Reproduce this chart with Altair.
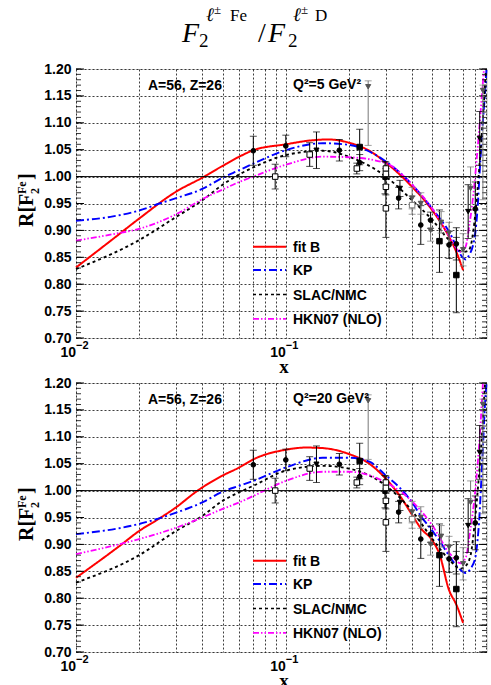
import altair as alt
import pandas as pd
import numpy as np

# ---------------- model curves ----------------
MODELS = ["fit B", "KP", "SLAC/NMC", "HKN07 (NLO)"]
COLORS = ["#ff0000", "#0000ff", "#000000", "#ff00ff"]
DASHES = [[1, 0], [8, 3, 2, 3], [3, 3], [6, 2, 1.5, 2, 1.5, 2]]
WIDTHS = [2.0, 1.8, 1.6, 1.8]

# Q^2 = 5 GeV^2
fitB5_x = [0.01, 0.015, 0.02, 0.03, 0.04, 0.05, 0.06, 0.07, 0.1, 0.13, 0.16, 0.2, 0.25, 0.3, 0.4, 0.5, 0.6, 0.65, 0.7]
fitB5_y = [0.831, 0.884, 0.922, 0.972, 0.998, 1.020, 1.037, 1.049, 1.060, 1.067, 1.069, 1.063, 1.048, 1.026, 0.981, 0.937, 0.888, 0.860, 0.826]
kp5_x = [0.01, 0.015, 0.02, 0.025, 0.03, 0.04, 0.05, 0.06, 0.07, 0.1, 0.15, 0.2, 0.3, 0.4, 0.5, 0.6, 0.7, 0.72, 0.75, 0.78, 0.8, 0.82, 0.84, 0.865, 0.89, 0.905]
kp5_y = [0.918, 0.926, 0.937, 0.950, 0.960, 0.977, 0.998, 1.012, 1.024, 1.049, 1.062, 1.059, 1.028, 0.985, 0.940, 0.898, 0.849, 0.846, 0.855, 0.872, 0.895, 0.940, 1.010, 1.090, 1.155, 1.200]
slac5_x = [0.01, 0.02, 0.03, 0.04, 0.05, 0.06, 0.07, 0.1, 0.15, 0.2, 0.3, 0.4, 0.5, 0.6, 0.7, 0.74, 0.77, 0.8, 0.83, 0.86, 0.88, 0.9]
slac5_y = [0.828, 0.882, 0.925, 0.956, 0.985, 1.004, 1.017, 1.040, 1.048, 1.037, 1.000, 0.956, 0.919, 0.882, 0.860, 0.862, 0.880, 0.930, 1.000, 1.080, 1.140, 1.200]
hkn5_x = [0.01, 0.015, 0.02, 0.03, 0.04, 0.05, 0.06, 0.07, 0.1, 0.15, 0.2, 0.3, 0.4, 0.5, 0.6, 0.68, 0.72, 0.75, 0.785, 0.82, 0.86, 0.88]
hkn5_y = [0.881, 0.893, 0.903, 0.930, 0.958, 0.976, 0.990, 1.000, 1.022, 1.037, 1.036, 1.025, 0.985, 0.940, 0.890, 0.860, 0.870, 0.910, 0.970, 1.050, 1.150, 1.200]

# Q^2 = 20 GeV^2
fitB20_x = [0.01, 0.0165, 0.02, 0.024, 0.03, 0.038, 0.05, 0.06, 0.07, 0.1, 0.125, 0.15, 0.2, 0.25, 0.3, 0.35, 0.4, 0.44, 0.5, 0.54, 0.6, 0.65, 0.7]
fitB20_y = [0.838, 0.900, 0.925, 0.944, 0.969, 1.000, 1.028, 1.043, 1.058, 1.076, 1.080, 1.079, 1.068, 1.050, 1.022, 0.990, 0.955, 0.930, 0.907, 0.882, 0.815, 0.788, 0.754]
kp20_x = [0.01, 0.02, 0.03, 0.04, 0.05, 0.06, 0.07, 0.1, 0.15, 0.2, 0.25, 0.3, 0.35, 0.4, 0.44, 0.5, 0.54, 0.61, 0.67, 0.72, 0.76, 0.8, 0.82, 0.835, 0.85, 0.87, 0.89, 0.905]
kp20_y = [0.919, 0.938, 0.959, 0.978, 0.998, 1.009, 1.018, 1.043, 1.061, 1.061, 1.054, 1.028, 1.005, 0.978, 0.953, 0.925, 0.907, 0.875, 0.855, 0.847, 0.855, 0.875, 0.907, 0.944, 1.000, 1.080, 1.160, 1.200]
slac20_x = [0.01, 0.02, 0.03, 0.04, 0.05, 0.06, 0.07, 0.1, 0.15, 0.2, 0.3, 0.4, 0.5, 0.6, 0.68, 0.72, 0.76, 0.8, 0.83, 0.86, 0.89]
slac20_y = [0.829, 0.880, 0.925, 0.953, 0.981, 0.997, 1.009, 1.037, 1.046, 1.041, 1.009, 0.962, 0.910, 0.872, 0.855, 0.860, 0.880, 0.950, 1.020, 1.100, 1.200]
hkn20_x = [0.01, 0.02, 0.03, 0.04, 0.05, 0.06, 0.07, 0.1, 0.15, 0.2, 0.3, 0.4, 0.5, 0.6, 0.68, 0.72, 0.76, 0.8, 0.84, 0.87]
hkn20_y = [0.882, 0.910, 0.931, 0.950, 0.966, 0.978, 0.990, 1.018, 1.035, 1.035, 1.015, 0.980, 0.935, 0.885, 0.865, 0.875, 0.930, 1.000, 1.100, 1.200]

# ---------------- data points (x, y, low, high, marker kind) ----------------
pt_x = [0.070, 0.089, 0.100, 0.130, 0.140, 0.180, 0.225, 0.225, 0.218, 0.247, 0.297, 0.300, 0.300, 0.300, 0.300,
        0.345, 0.350, 0.400, 0.400, 0.440, 0.440, 0.490, 0.490, 0.540, 0.550, 0.600, 0.600, 0.650, 0.650, 0.700,
        0.740, 0.760, 0.800, 0.840, 0.870]
pt_y = [1.048, 1.000, 1.057, 1.041, 1.049, 1.049, 1.055, 1.026, 1.015, 1.167, 0.998, 1.015, 1.005, 0.981, 0.941,
        0.960, 0.978, 0.947, 0.960, 0.910, 0.950, 0.919, 0.900, 0.880, 0.915, 0.873, 0.895, 0.817, 0.875, 0.864,
        0.935, 0.978, 0.940, 1.071, 1.160]
pt_lo = [1.021, 0.977, 1.037, 1.019, 1.015, 1.029, 1.022, 1.011, 1.005, 1.058, 0.968, 1.003, 0.995, 0.966, 0.887,
         0.940, 0.963, 0.930, 0.940, 0.874, 0.930, 0.904, 0.880, 0.822, 0.895, 0.848, 0.875, 0.747, 0.845, 0.834,
         0.885, 0.938, 0.890, 1.021, 0.957]
pt_hi = [1.075, 1.023, 1.077, 1.063, 1.083, 1.069, 1.088, 1.041, 1.025, 1.178, 1.028, 1.027, 1.015, 0.996, 0.985,
         0.980, 0.993, 0.964, 0.980, 0.946, 0.970, 0.934, 0.920, 0.938, 0.935, 0.898, 0.915, 0.887, 0.905, 0.894,
         0.985, 1.018, 0.990, 1.121, 1.170]
pt_kind = ["circle", "open", "circle", "open", "tri", "circle", "square", "circle", "open", "gtri", "circle", "open", "open", "open", "open",
           "circle", "tri", "gopen", "gtri", "circle", "gtri", "circle", "gtri", "square", "gtri", "circle", "gtri", "square", "circle", "gtri",
           "tri", "gtri", "circle", "tri", "gtri"]

YTICKS = [0.70, 0.75, 0.80, 0.85, 0.90, 0.95, 1.00, 1.05, 1.10, 1.15, 1.20]
XGRID = [0.01, 0.02, 0.03, 0.04, 0.05, 0.06, 0.07, 0.08, 0.09, 0.1, 0.2, 0.3, 0.4, 0.5, 0.6, 0.7, 0.8, 0.9]
XLABELS = [0.01, 0.1]
XLABEL_EXP = ["\u22122", "\u22121"]
MINOR_Y = [round(v, 2) for v in np.arange(0.70, 1.2001, 0.01)]

W, H = 411, 269
XDOM = [0.01, 0.91]
YDOM = [0.70, 1.20]
SANS = "Liberation Sans"
SERIF = "Liberation Serif"

xscale = alt.Scale(type="log", domain=XDOM, nice=False)
yscale = alt.Scale(domain=YDOM, nice=False, zero=False)

XAXIS = alt.Axis(values=XGRID, labels=False, ticks=False, domain=False, grid=True,
                 gridColor="black", gridDash=[2, 2], gridWidth=0.9, gridOpacity=0.85, title=None)
YAXIS = alt.Axis(values=YTICKS, format=".2f", labelFont=SANS, labelFontWeight="bold",
                 labelFontSize=14, labelColor="black", labelPadding=5, ticks=False,
                 domain=False, grid=True, gridColor="black", gridDash=[2, 2],
                 gridWidth=0.9, gridOpacity=0.85, title=None)


def XE(field="x"):
    return alt.X(f"{field}:Q", scale=xscale, axis=XAXIS)


def YE(field="y"):
    return alt.Y(f"{field}:Q", scale=yscale, axis=YAXIS)


def curves_df(sets):
    rows = []
    for m, (xs, ys) in zip(MODELS, sets):
        for a, b in zip(xs, ys):
            rows.append({"model": m, "x": a, "y": b})
    return pd.DataFrame(rows)


points = pd.DataFrame({"x": pt_x, "y": pt_y, "lo": pt_lo, "hi": pt_hi, "kind": pt_kind})
points["gray"] = points["kind"].str.startswith("g")


def panel(sets, q2text, with_title):
    cdf = curves_df(sets)

    curves = alt.Chart(cdf).mark_line(interpolate="monotone").encode(
        x=XE(), y=YE(),
        color=alt.Color("model:N", scale=alt.Scale(domain=MODELS, range=COLORS), legend=None),
        strokeDash=alt.StrokeDash("model:N", scale=alt.Scale(domain=MODELS, range=DASHES), legend=None),
        strokeWidth=alt.StrokeWidth("model:N", scale=alt.Scale(domain=MODELS, range=WIDTHS), legend=None),
    )

    one = alt.Chart(pd.DataFrame({"y": [1.0]})).mark_rule(color="black", strokeWidth=1).encode(y=YE())

    minor = pd.DataFrame({"y": MINOR_Y})
    major = pd.DataFrame({"y": YTICKS})
    ticks = [
        alt.Chart(minor).mark_rule(color="black", strokeWidth=0.8).encode(y=YE(), x=alt.value(0), x2=alt.value(5)),
        alt.Chart(major).mark_rule(color="black", strokeWidth=1).encode(y=YE(), x=alt.value(0), x2=alt.value(8)),
        alt.Chart(minor).mark_rule(color="black", strokeWidth=0.8).encode(y=YE(), x=alt.value(W - 5), x2=alt.value(W)),
        alt.Chart(major).mark_rule(color="black", strokeWidth=1).encode(y=YE(), x=alt.value(W - 8), x2=alt.value(W)),
    ]

    err_layers = []
    for is_gray, col in [(False, "#000000"), (True, "#777777")]:
        sub = points[points["gray"] == is_gray]
        b = alt.Chart(sub)
        err_layers += [
            b.mark_rule(strokeWidth=1, color=col).encode(x=XE(), y=YE("lo"), y2="hi:Q"),
            b.mark_tick(orient="horizontal", size=7, thickness=1, color=col).encode(x=XE(), y=YE("lo")),
            b.mark_tick(orient="horizontal", size=7, thickness=1, color=col).encode(x=XE(), y=YE("hi")),
        ]

    def sym(kinds, shape, size, fill, stroke):
        return alt.Chart(points[points["kind"].isin(kinds)]).mark_point(
            shape=shape, size=size, filled=True, fill=fill, stroke=stroke, strokeWidth=1, opacity=1).encode(
            x=XE(), y=YE())

    syms = [
        sym(["circle"], "circle", 22, "black", "black"),
        sym(["square"], "square", 30, "black", "black"),
        sym(["open"], "square", 30, "white", "black"),
        sym(["gopen"], "square", 30, "white", "#777777"),
        sym(["tri"], "triangle-down", 26, "black", "black"),
        sym(["gtri"], "triangle-down", 26, "#555555", "#555555"),
    ]

    # legend (drawn by hand inside the frame)
    leg_rows = [177.7, 201.0, 225.5, 249.8]
    legend = []
    for m, c, d, w, ry in zip(MODELS, COLORS, DASHES, WIDTHS, leg_rows):
        legend.append(alt.Chart(pd.DataFrame({"m": [m]})).mark_rule(color=c, strokeDash=d, strokeWidth=w).encode(
            x=alt.value(177), x2=alt.value(210), y=alt.value(ry)))
        legend.append(alt.Chart(pd.DataFrame({"m": [m]})).mark_text(
            text=m, font=SANS, fontWeight="bold", fontSize=14, align="left", baseline="middle", color="black").encode(
            x=alt.value(217), y=alt.value(ry + 1)))

    def txt(s, x, y, size=14, font=SANS, weight="bold", style="normal", align="left", baseline="alphabetic", angle=0):
        return alt.Chart(pd.DataFrame({"t": [s]})).mark_text(
            text=s, font=font, fontSize=size, fontWeight=weight, fontStyle=style, align=align,
            baseline=baseline, color="black", angle=angle).encode(x=alt.value(x), y=alt.value(y))

    texts = [
        txt("A=56, Z=26", 72, 21),
        txt(q2text, 217, 20),
    ]

    # x tick labels 10^-2, 10^-1 positioned through the scale
    lab = pd.DataFrame({"x": XLABELS, "e": XLABEL_EXP})
    xl_main = alt.Chart(lab).mark_text(text="10", font=SANS, fontWeight="bold", fontSize=14, align="right",
                                       baseline="alphabetic", color="black").encode(x=XE(), y=alt.value(H + 19))
    xl_exp = alt.Chart(lab).mark_text(font=SANS, fontWeight="bold", fontSize=11, align="left",
                                      baseline="alphabetic", color="black").encode(
        x=XE(), y=alt.value(H + 11), text="e:N")
    texts += [xl_main, xl_exp]
    texts.append(txt("x", 208, H + 35, size=19, font=SERIF, align="center"))

    # y-axis title R[F_2^Fe], rotated
    texts += [
        txt("R[F", -43, 158, size=20, font=SERIF, angle=270),
        txt("Fe", -50, 125, size=12, font=SERIF, angle=270),
        txt("2", -37, 125, size=12, font=SERIF, angle=270),
        txt("]", -43, 111, size=20, font=SERIF, angle=270),
    ]

    extra = []
    if with_title:
        texts += [
            txt("F", 106, -27, size=28, font=SERIF, weight="normal", style="italic"),
            txt("2", 123, -22, size=19, font=SERIF, weight="normal"),
            txt("\u2113", 130, -48, size=19, font=SERIF, weight="normal", style="italic"),
            txt("\u00b1", 138, -55, size=13, font=SERIF, weight="normal"),
            txt("Fe", 154, -48, size=17, font=SERIF, weight="normal"),
            txt("/", 182, -27, size=28, font=SERIF, weight="normal"),
            txt("F", 192, -27, size=28, font=SERIF, weight="normal", style="italic"),
            txt("2", 212, -22, size=19, font=SERIF, weight="normal"),
            txt("\u2113", 217, -48, size=19, font=SERIF, weight="normal", style="italic"),
            txt("\u00b1", 225, -55, size=13, font=SERIF, weight="normal"),
            txt("D", 239, -48, size=17, font=SERIF, weight="normal"),
        ]
        # invisible anchor fixing the page margin (plot frame at 76, 69)
        extra.append(alt.Chart(pd.DataFrame({"a": [0]})).mark_rule(opacity=0, strokeWidth=1).encode(
            x=alt.value(-75.5), x2=alt.value(-75.5), y=alt.value(-68.5), y2=alt.value(-60)))
        extra.append(alt.Chart(pd.DataFrame({"a": [0]})).mark_rule(opacity=0, strokeWidth=1).encode(
            x=alt.value(-75.5), x2=alt.value(-60), y=alt.value(-68.5), y2=alt.value(-68.5)))

    layers = [curves, one] + ticks + err_layers + syms + legend + texts + extra
    return alt.layer(*layers).properties(width=W, height=H)


top = panel([(fitB5_x, fitB5_y), (kp5_x, kp5_y), (slac5_x, slac5_y), (hkn5_x, hkn5_y)],
            "Q\u00b2=5 GeV\u00b2", True)
bot = panel([(fitB20_x, fitB20_y), (kp20_x, kp20_y), (slac20_x, slac20_y), (hkn20_x, hkn20_y)],
            "Q\u00b2=20 GeV\u00b2", False)

chart = alt.vconcat(top, bot, spacing=45, bounds="flush").properties(
    padding={"left": 0, "top": 0, "right": 0, "bottom": 0}
).configure_view(stroke="black", strokeWidth=1.2).configure(background="white")

chart.save("out.html", embed_options={"renderer": "svg", "actions": False})
